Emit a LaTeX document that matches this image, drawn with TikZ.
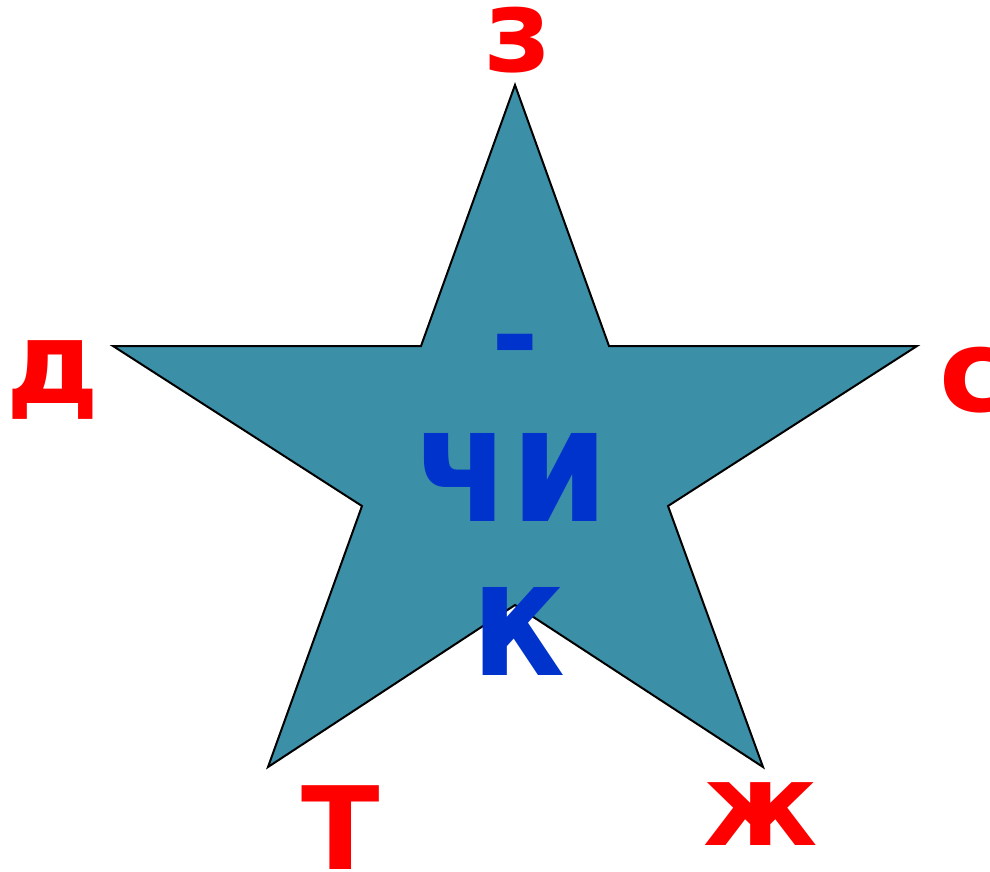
\documentclass[tikz,border=0pt]{standalone}
\usepackage{fontspec}
\setmainfont{DejaVu Sans}
\usetikzlibrary{positioning}
\definecolor{starteal}{RGB}{59,144,168}
\definecolor{wordblue}{RGB}{0,51,204}
\definecolor{letterred}{RGB}{255,0,0}
\tikzset{
  letter/.style={text=letterred, inner sep=0pt, anchor=base,
    font=\fontsize{115}{115}\selectfont\bfseries},
  wordpart/.style={text=wordblue, inner sep=0pt, anchor=base,
    xscale=0.86, transform shape,
    font=\fontsize{161}{161}\selectfont\bfseries},
}

\begin{document}
\begin{tikzpicture}[x=1pt, y=-1pt]
  \useasboundingbox (0,0) rectangle (990,871);
  % star
  \draw[fill=starteal, line width=2pt, line join=miter]
    (515,85) -- (609,346) -- (917,346) -- (668,506) -- (763,767)
    -- (515,605) -- (268,767) -- (362,506) -- (113,346) -- (421,346) -- cycle;
  % letters round the star
  \node[letter] (ze) at (518,71) {з};
  \node[letter] (de) at (53,403) {д};
  \node[letter] (es) at (974,411) {с};
  \node[letter] (te) at (341,869) {Т};
  \node[letter] (zhe) at (761,845) {ж};
  % word parts in the middle
  \node[wordpart, xscale=1.16, font=\fontsize{115}{115}\selectfont\bfseries] (dash) at (515,375) {-};
  \node[wordpart] (chi) at (512,521) {чи};
  \node[wordpart] (ka) at (518,675) {к};
\end{tikzpicture}
\end{document}
